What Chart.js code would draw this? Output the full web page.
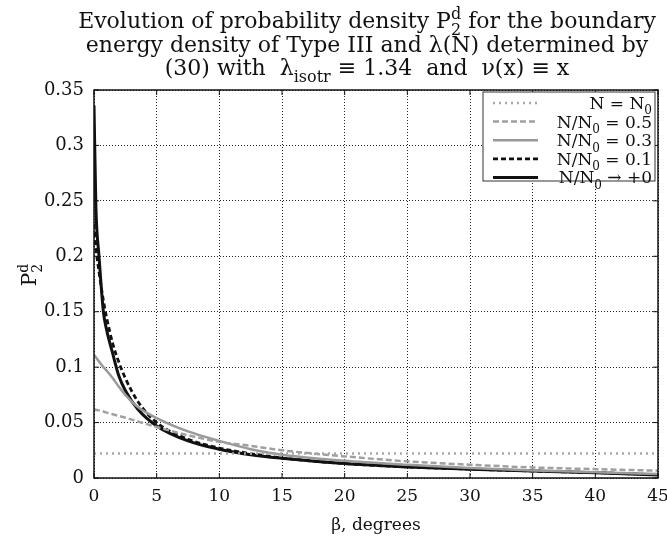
<!DOCTYPE html>
<html>
<head>
<meta charset="utf-8">
<script src="https://cdn.jsdelivr.net/npm/chart.js@4/dist/chart.umd.min.js"></script>
<style>
  html, body { margin: 0; padding: 0; background: #fff; }
  #wrap { width: 667px; height: 540px; }
</style>
</head>
<body>
<div id="wrap"><canvas id="chart" width="667" height="540"></canvas></div>
<script>
// --- data ---
const beta = [0, 0.15, 0.4, 0.75, 1, 1.5, 2, 2.5, 3.5, 5, 7.5, 10, 12.5, 15, 20, 25, 30, 35, 40, 45];
const pN0 = [0.022, 0.022, 0.022, 0.022, 0.022, 0.022, 0.022, 0.022, 0.022, 0.022, 0.022, 0.022, 0.022, 0.022, 0.022, 0.022, 0.022, 0.022, 0.022, 0.022];
const p05 = [0.062, 0.0615, 0.061, 0.060, 0.059, 0.0575, 0.056, 0.0545, 0.051, 0.046, 0.0386, 0.0326, 0.029, 0.025, 0.0195, 0.015, 0.012, 0.0095, 0.008, 0.0066];
const p03 = [0.111, 0.109, 0.105, 0.100, 0.097, 0.090, 0.082, 0.075, 0.064, 0.054, 0.042, 0.0335, 0.026, 0.021, 0.0155, 0.012, 0.009, 0.0068, 0.0052, 0.0035];
const p01 = [0.229, 0.208, 0.186, 0.160, 0.145, 0.121, 0.104, 0.090, 0.069, 0.050, 0.035, 0.027, 0.022, 0.018, 0.013, 0.010, 0.008, 0.0063, 0.0048, 0.003];
const p00 = [0.336, 0.245, 0.200, 0.150, 0.134, 0.112, 0.0915, 0.079, 0.062, 0.047, 0.0335, 0.026, 0.021, 0.0178, 0.013, 0.010, 0.008, 0.0063, 0.0048, 0.0027];
const xTicks = [0, 5, 10, 15, 20, 25, 30, 35, 40, 45];
const yTicks = [0, 0.05, 0.1, 0.15, 0.2, 0.25, 0.3, 0.35];

const SERIF = '"DejaVu Serif", "Liberation Serif", serif';

// legend labels as rich text parts
const legendLabels = [
    [{t: 'N = N'}, {sub: '0'}],
    [{t: 'N/N'}, {sub: '0'}, {t: ' = 0.5'}],
    [{t: 'N/N'}, {sub: '0'}, {t: ' = 0.3'}],
    [{t: 'N/N'}, {sub: '0'}, {t: ' = 0.1'}],
    [{t: 'N/N'}, {sub: '0'}, {t: ' \u2192 +0'}]
];

const titleLines = [
    [{t: 'Evolution of probability density P'}, {sub: '2', sup: 'd'}, {t: ' for the boundary'}],
    [{t: 'energy density of Type III and \u03bb(N) determined by'}],
    [{t: '(30) with  \u03bb'}, {sub: 'isotr'}, {t: ' \u2261 1.34  and  \u03bd(x) \u2261 x'}]
];

function toPoints(ys) {
    return beta.map((x, i) => ({x: x, y: ys[i]}));
}

// --- rich text helper (sub/superscripts) ---
function richWidth(ctx, parts, size) {
    let w = 0;
    parts.forEach(p => {
        if (p.t) {
            ctx.font = size + 'px ' + SERIF;
            w += ctx.measureText(p.t).width;
        } else {
            ctx.font = Math.round(size * 0.72) + 'px ' + SERIF;
            const a = p.sub ? ctx.measureText(p.sub).width : 0;
            const b = p.sup ? ctx.measureText(p.sup).width : 0;
            w += Math.max(a, b);
        }
    });
    return w;
}

function drawRich(ctx, parts, x, y, size, align) {
    const w = richWidth(ctx, parts, size);
    let cx = x;
    if (align === 'center') cx = x - w / 2;
    if (align === 'right') cx = x - w;
    ctx.textBaseline = 'alphabetic';
    ctx.textAlign = 'left';
    parts.forEach(p => {
        if (p.t) {
            ctx.font = size + 'px ' + SERIF;
            ctx.fillText(p.t, cx, y);
            cx += ctx.measureText(p.t).width;
        } else {
            const s = Math.round(size * 0.72);
            ctx.font = s + 'px ' + SERIF;
            let dw = 0;
            if (p.sub) {
                ctx.fillText(p.sub, cx, y + size * 0.32);
                dw = ctx.measureText(p.sub).width;
            }
            if (p.sup) {
                ctx.fillText(p.sup, cx, y - size * 0.42);
                dw = Math.max(dw, ctx.measureText(p.sup).width);
            }
            cx += dw;
        }
    });
}

// --- plugin: title, axis title, frame, inner ticks, legend box ---
const decorPlugin = {
    id: 'decor',
    afterDraw(chart) {
        const ctx = chart.ctx;
        const area = chart.chartArea;
        const xs = chart.scales.x;
        const ys = chart.scales.y;
        ctx.save();
        ctx.fillStyle = '#111';

        // title
        const midX = (area.left + area.right) / 2 - 9;
        const base = [28, 52, 75];
        titleLines.forEach((line, i) => drawRich(ctx, line, midX, base[i], 22, 'center'));

        // y axis title, rotated
        ctx.save();
        ctx.translate(36, 275);
        ctx.rotate(-Math.PI / 2);
        drawRich(ctx, [{t: 'P'}, {sub: '2', sup: 'd'}], 0, 0, 20, 'center');
        ctx.restore();

        // frame
        ctx.strokeStyle = '#111';
        ctx.lineWidth = 1.5;
        ctx.setLineDash([]);
        ctx.strokeRect(area.left, area.top, area.right - area.left, area.bottom - area.top);

        // inner ticks on all four sides
        ctx.lineWidth = 1;
        ctx.beginPath();
        xTicks.forEach(v => {
            const px = xs.getPixelForValue(v);
            ctx.moveTo(px, area.bottom); ctx.lineTo(px, area.bottom - 5);
            ctx.moveTo(px, area.top); ctx.lineTo(px, area.top + 5);
        });
        yTicks.forEach(v => {
            const py = ys.getPixelForValue(v);
            ctx.moveTo(area.left, py); ctx.lineTo(area.left + 5, py);
            ctx.moveTo(area.right, py); ctx.lineTo(area.right - 5, py);
        });
        ctx.stroke();

        // legend box in the upper right corner
        const bx = 483, by = area.top + 2, bw = area.right - 3 - bx, bh = 89;
        ctx.fillStyle = '#fff';
        ctx.fillRect(bx, by, bw, bh);
        ctx.strokeStyle = '#333';
        ctx.lineWidth = 1;
        ctx.strokeRect(bx, by, bw, bh);
        chart.data.datasets.forEach((ds, i) => {
            const ry = by + 11 + i * 18.6;
            ctx.strokeStyle = ds.borderColor;
            ctx.lineWidth = ds.borderWidth;
            ctx.setLineDash(ds.borderDash || []);
            ctx.beginPath();
            ctx.moveTo(bx + 10, ry);
            ctx.lineTo(bx + 55, ry);
            ctx.stroke();
            ctx.setLineDash([]);
            ctx.fillStyle = '#111';
            drawRich(ctx, legendLabels[i], bx + bw - 3, ry + 6, 17, 'right');
        });
        ctx.restore();
    }
};

const lineDefaults = {pointRadius: 0, fill: false, cubicInterpolationMode: 'monotone'};

new Chart(document.getElementById('chart'), {
    type: 'line',
    data: {
        datasets: [
            Object.assign({label: 'N = N0', data: toPoints(pN0), borderColor: '#a8a8a8', borderWidth: 2.5, borderDash: [2, 4]}, lineDefaults),
            Object.assign({label: 'N/N0 = 0.5', data: toPoints(p05), borderColor: '#a0a0a0', borderWidth: 2.5, borderDash: [6, 3]}, lineDefaults),
            Object.assign({label: 'N/N0 = 0.3', data: toPoints(p03), borderColor: '#9a9a9a', borderWidth: 2.5}, lineDefaults),
            Object.assign({label: 'N/N0 = 0.1', data: toPoints(p01), borderColor: '#111', borderWidth: 2.8, borderDash: [5, 3]}, lineDefaults),
            Object.assign({label: 'N/N0 -> +0', data: toPoints(p00), borderColor: '#111', borderWidth: 3}, lineDefaults)
        ]
    },
    options: {
        responsive: false,
        animation: false,
        layout: {padding: {top: 90, right: 9, left: 0, bottom: 0}},
        plugins: {
            legend: {display: false},
            title: {display: false},
            tooltip: {enabled: false}
        },
        scales: {
            x: {
                type: 'linear',
                min: 0,
                max: 45,
                afterFit: s => { s.height = 62; s.paddingLeft = 0; s.paddingRight = 0; },
                afterBuildTicks: s => { s.ticks = xTicks.map(v => ({value: v})); },
                grid: {color: '#222', lineWidth: 1, drawTicks: false},
                border: {display: false, dash: [1, 2]},
                ticks: {color: '#111', padding: 8, font: {family: SERIF, size: 17}},
                title: {display: true, text: '\u03b2, degrees', color: '#111', padding: {top: 3}, font: {family: SERIF, size: 17}}
            },
            y: {
                min: 0,
                max: 0.35,
                afterFit: s => { s.width = 94; s.paddingTop = 0; s.paddingBottom = 0; },
                afterBuildTicks: s => { s.ticks = yTicks.map(v => ({value: v})); },
                grid: {color: '#222', lineWidth: 1, drawTicks: false},
                border: {display: false, dash: [1, 2]},
                ticks: {color: '#111', padding: 10, font: {family: SERIF, size: 18}, callback: v => String(v)}
            }
        }
    },
    plugins: [decorPlugin]
});
</script>
</body>
</html>
